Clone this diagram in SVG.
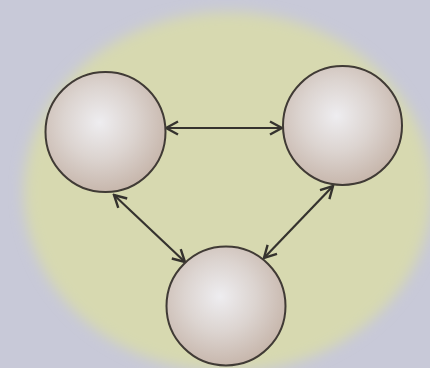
<svg xmlns="http://www.w3.org/2000/svg" width="430" height="368" viewBox="0 0 430 368">
<defs>
<radialGradient id="ball" cx="0.45" cy="0.42" r="0.6">
<stop offset="0" stop-color="#eeedf0"/>
<stop offset="0.5" stop-color="#dcd4d0"/>
<stop offset="1" stop-color="#c6b5aa"/>
</radialGradient>
<filter id="soft" x="-20%" y="-20%" width="140%" height="140%"><feGaussianBlur stdDeviation="7"/></filter>
<filter id="blur1" x="-10%" y="-10%" width="120%" height="120%"><feGaussianBlur stdDeviation="0.6"/></filter>
<marker id="ah" viewBox="0 0 16 16" refX="14.5" refY="8" markerWidth="16" markerHeight="16" markerUnits="userSpaceOnUse" orient="auto-start-reverse">
<path d="M2.5,1.5 L14.5,8 L2.5,14.5" fill="none" stroke="#35332e" stroke-width="2.4"/>
</marker>
<style>
.node circle{fill:url(#ball);stroke:#403a35;stroke-width:2}
.conn line{stroke:#35332e;stroke-width:2.2;marker-start:url(#ah);marker-end:url(#ah)}
</style>
</defs>
<rect width="430" height="368" fill="#c8c9d8"/>
<ellipse cx="228" cy="192" rx="204" ry="180" fill="#d7d9b0" filter="url(#soft)"/>
<g filter="url(#blur1)">
<g class="conn" id="connectors">
<line x1="166" y1="128" x2="282" y2="128"/>
<line x1="114" y1="195" x2="185" y2="262"/>
<line x1="333" y1="186" x2="264" y2="258"/>
</g>
<g class="node" id="left"><circle cx="105.5" cy="132" r="60"/></g>
<g class="node" id="right"><circle cx="342.5" cy="125.5" r="59.5"/></g>
<g class="node" id="bottom"><circle cx="226" cy="306" r="59.5"/></g>
</g>
</svg>
